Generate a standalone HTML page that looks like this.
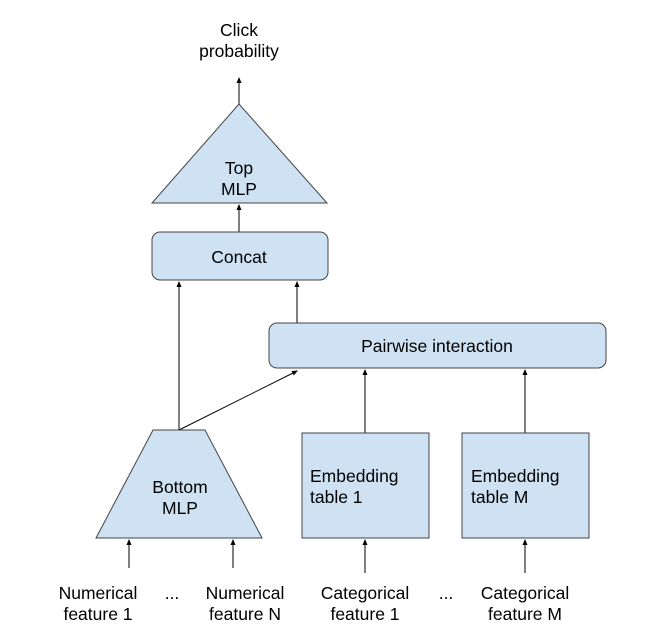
<!DOCTYPE html>
<html><head><style>body{margin:0;background:#fff}</style></head><body>
<svg width="645" height="633" xmlns="http://www.w3.org/2000/svg" font-family="Liberation Sans, sans-serif" font-size="17.5" fill="#000">
<defs><marker id="a" markerWidth="6" markerHeight="6" refX="5" refY="3" orient="auto"><path d="M0,0.5 L6,3 L0,5.5z" fill="#000"/></marker></defs>
<g stroke="#000" stroke-width="1" marker-end="url(#a)">
<line x1="239" y1="104" x2="239" y2="78"/>
<line x1="239" y1="232" x2="239" y2="205"/>
<line x1="179" y1="430" x2="179" y2="282"/>
<line x1="297" y1="323" x2="297" y2="282"/>
<line x1="179" y1="430" x2="297" y2="371"/>
<line x1="365" y1="433" x2="365" y2="370"/>
<line x1="525" y1="433" x2="525" y2="370"/>
<line x1="129" y1="568" x2="129" y2="540"/>
<line x1="233" y1="568" x2="233" y2="540"/>
<line x1="365" y1="573" x2="365" y2="540"/>
<line x1="525" y1="573" x2="525" y2="540"/>
</g>
<g fill="#cfe2f3" stroke="#444" stroke-width="1">
<polygon points="239,104 327,203 152,203"/>
<rect x="152" y="232" width="176" height="48" rx="8"/>
<rect x="269" y="323" width="337" height="45" rx="8"/>
<polygon points="153,430 205,430 262,538 96,538"/>
<rect x="302" y="433" width="127" height="105"/>
<rect x="462" y="433" width="127" height="105"/>
</g>
<g text-anchor="middle">
<text x="239" y="36">Click</text><text x="239" y="57">probability</text>
<text x="239" y="174">Top</text><text x="239" y="195">MLP</text>
<text x="239" y="263">Concat</text>
<text x="437" y="352">Pairwise interaction</text>
<text x="180" y="493">Bottom</text><text x="180" y="514">MLP</text>
<text x="98" y="599">Numerical</text><text x="98" y="620">feature 1</text>
<text x="172" y="599">...</text>
<text x="245" y="599">Numerical</text><text x="245" y="620">feature N</text>
<text x="365" y="599">Categorical</text><text x="365" y="620">feature 1</text>
<text x="446" y="599">...</text>
<text x="525" y="599">Categorical</text><text x="525" y="620">feature  M</text>
</g>
<text x="310" y="482">Embedding</text><text x="310" y="503">table 1</text>
<text x="471" y="482">Embedding</text><text x="471" y="503">table M</text>
</svg>
</body></html>
